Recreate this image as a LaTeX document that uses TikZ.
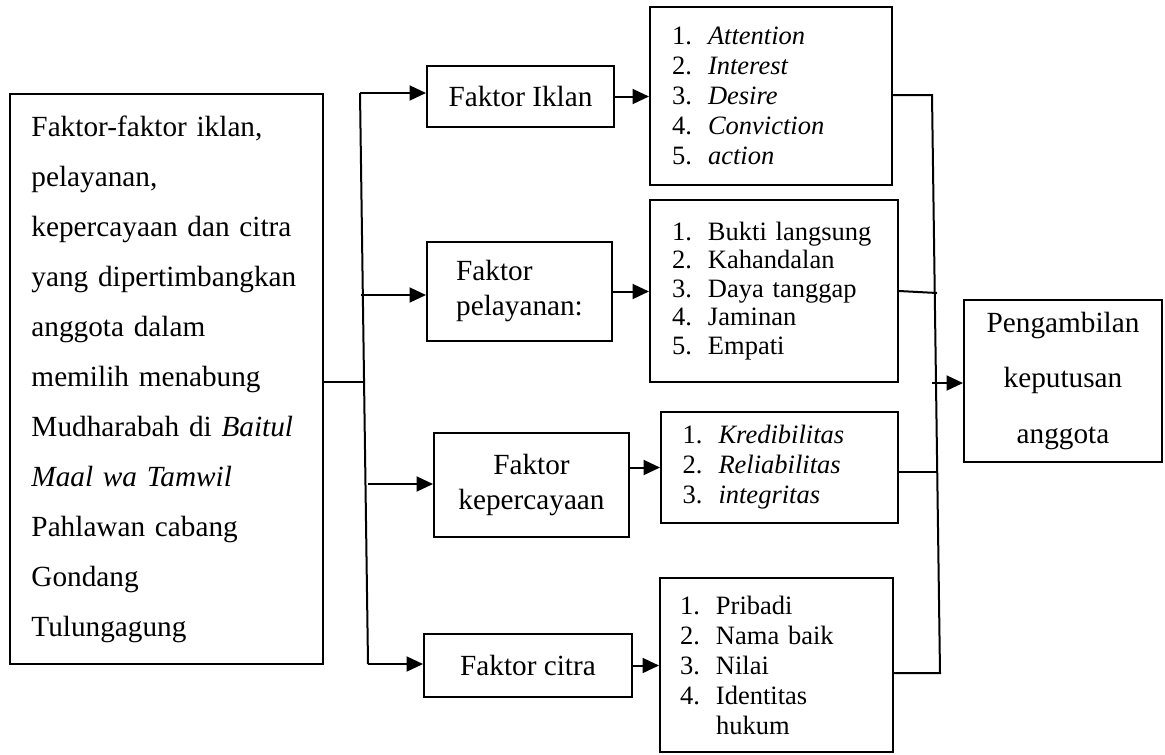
\documentclass[tikz,border=0pt]{standalone}
\usepackage{fontspec}
\setmainfont{Liberation Serif}
\usetikzlibrary{arrows.meta}

\newcommand{\butir}[2]{\makebox[14.4pt][l]{#1}#2}

\begin{document}
\begin{tikzpicture}[x=0.4pt,y=-0.4pt,
  box/.style={draw,line width=0.8pt,inner sep=0pt,font=\fontsize{11.7}{14}\selectfont},
  list/.style={box,align=left,inner xsep=8.8pt,text width=#1,font=\fontsize{10.6}{12}\selectfont},
  wire/.style={line width=0.8pt},
  arr/.style={wire,-{Triangle[length=6.6pt,width=6pt]}}]
\useasboundingbox (0,0) rectangle (1165,754);

% left box
\node[box,align=left,text width=108pt,inner xsep=8.4pt,minimum height=228pt,
      font=\fontsize{11.7}{20}\selectfont] (src) at (166.5,379)
  {Faktor-faktor iklan,\\ pelayanan,\\ kepercayaan dan citra\\ yang dipertimbangkan\\
   anggota dalam\\ memilih menabung\\ Mudharabah di \textit{Baitul}\\ \textit{Maal wa Tamwil}\\
   Pahlawan cabang\\ Gondang\\ Tulungagung};

% factor boxes
\node[box,minimum width=74.8pt,minimum height=24.4pt] (iklan) at (520.5,96.5) {Faktor Iklan};
\node[box,align=left,minimum width=74pt,minimum height=39.6pt] (layan) at (519.5,291.5) {Faktor\\ pelayanan:};
\node[box,align=center,minimum width=78pt,minimum height=41.6pt] (kep) at (531.5,485) {Faktor\\ kepercayaan};
\node[box,minimum width=83.2pt,minimum height=25.2pt] (citra) at (528,665.5) {Faktor citra};

% indicator lists
\node[list=79.2pt,minimum height=71.2pt] (list1) at (771,96)
  {\butir{1.}{\textit{Attention}}\\ \butir{2.}{\textit{Interest}}\\ \butir{3.}{\textit{Desire}}\\
   \butir{4.}{\textit{Conviction}}\\ \butir{5.}{\textit{action}}};
\node[list=81.6pt,minimum height=72.8pt,font=\fontsize{10.6}{11.4}\selectfont] (list2) at (774,291)
  {\butir{1.}{Bukti langsung}\\ \butir{2.}{Kahandalan}\\ \butir{3.}{Daya tanggap}\\
   \butir{4.}{Jaminan}\\ \butir{5.}{Empati}};
\node[list=77.6pt,minimum height=44.4pt,inner xsep=8.6pt] (list3) at (779.5,467.5)
  {\butir{1.}{\textit{Kredibilitas}}\\ \butir{2.}{\textit{Reliabilitas}}\\ \butir{3.}{\textit{integritas}}};
\node[list=77.2pt,minimum height=69.6pt,inner xsep=8pt] (list4) at (776.5,665)
  {\butir{1.}{Pribadi}\\ \butir{2.}{Nama baik}\\ \butir{3.}{Nilai}\\
   \butir{4.}{Identitas}\\ \butir{}{hukum}};

% decision box
\node[box,align=center,minimum width=79.2pt,minimum height=64.8pt,
      font=\fontsize{11.7}{22}\selectfont] (goal) at (1063,381)
  {Pengambilan\\ keputusan\\ anggota};

% left bus
\coordinate (busTop) at (360,93);
\coordinate (busBot) at (368,664);
\coordinate (busJoin) at (363,382);
\coordinate (busP) at (361,295);
\coordinate (busK) at (368,484);
\draw[wire] (src.east |- busJoin) -- (busJoin);
\draw[wire] (busTop) -- (busBot);
\draw[arr] (busTop) -- (busTop -| iklan.west);
\draw[arr] (busP) -- (busP -| layan.west);
\draw[arr] (busK) -- (busK -| kep.west);
\draw[arr] (busBot) -- (busBot -| citra.west);

% factor -> list
\draw[arr] (iklan.east) -- (iklan.east -| list1.west);
\draw[arr] (layan.east) -- (layan.east -| list2.west);
\draw[arr] (kep.east |- list3.west) -- (list3.west);
\draw[arr] (citra.east) -- (citra.east -| list4.west);

% right bus
\coordinate (rbusTop) at (932,95);
\coordinate (rbusBot) at (940,673);
\coordinate (rbusP) at (937,293);
\coordinate (rbusK) at (938,472);
\coordinate (rjoin) at (932,383);
\draw[wire] (list1.east |- rbusTop) -- (rbusTop) -- (rbusBot) -- (rbusBot -| list4.east);
\draw[wire] (list2.east) -- (rbusP);
\draw[wire] (list3.east |- rbusK) -- (rbusK);
\draw[arr] (rjoin) -- (rjoin -| goal.west);
\end{tikzpicture}
\end{document}
